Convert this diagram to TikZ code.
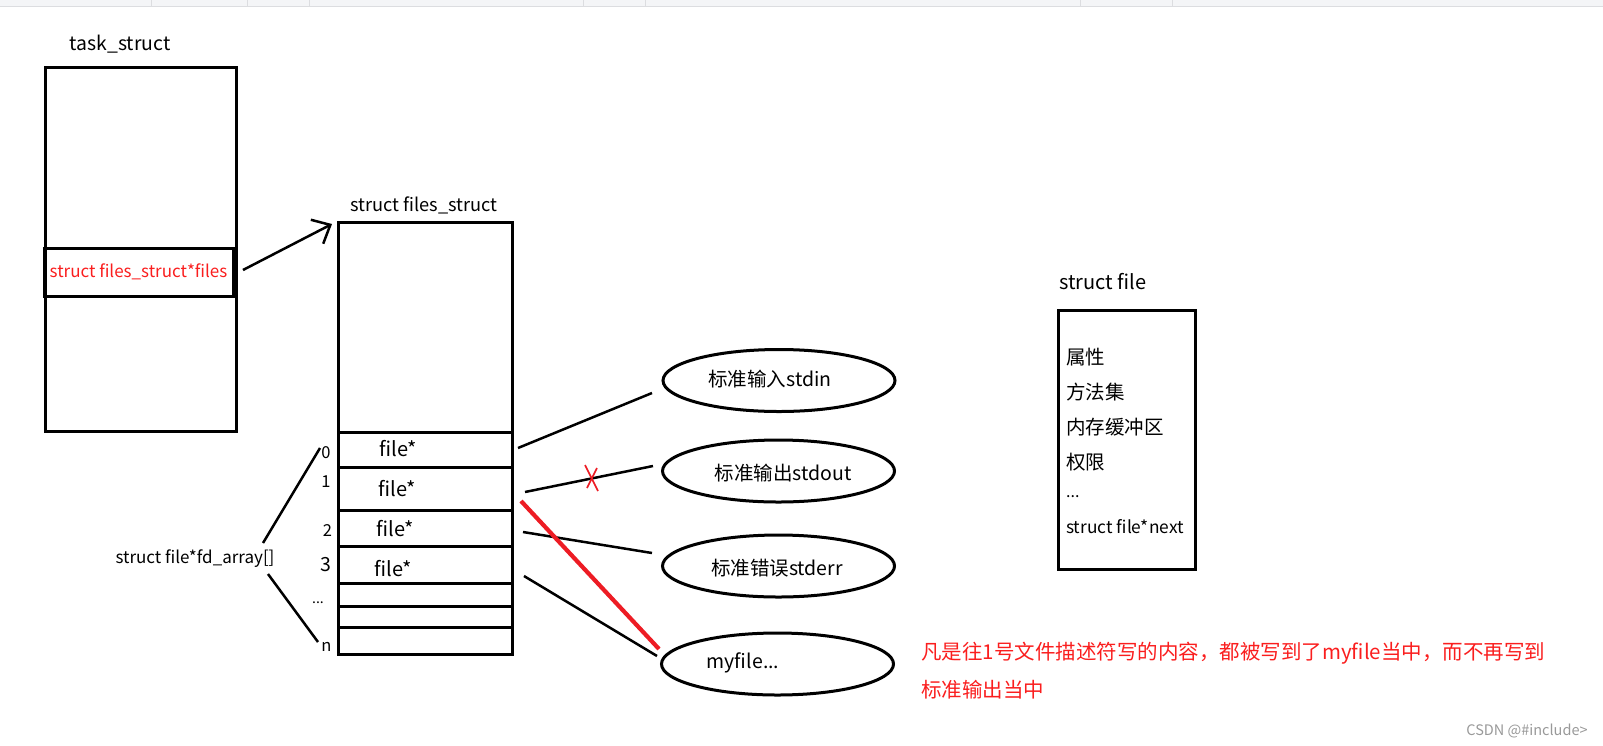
\documentclass[tikz,border=0pt]{standalone}
\usepackage{fontspec}
\setmainfont{Noto Sans CJK SC}
\usetikzlibrary{shapes.geometric,arrows.meta,calc}
\definecolor{myred}{RGB}{237,28,36}
\definecolor{txtred}{RGB}{250,30,30}
\definecolor{barbg}{RGB}{244,245,247}
\definecolor{barline}{RGB}{220,221,224}
\begin{document}
\begin{tikzpicture}[x=1pt,y=-1pt,
  box/.style={draw, line width=3pt, inner sep=0pt},
  rowbox/.style={draw, line width=3pt, inner sep=0pt, minimum width=174},
  oval/.style={draw, ellipse, line width=3pt, inner sep=0pt, minimum width=232, minimum height=62},
  conn/.style={line width=2.5pt, black},
  fnt/.style={inner sep=0pt, font=\fontsize{#1}{#1}\selectfont},
  idx/.style={inner sep=0pt, font=\fontsize{16.5}{18}\selectfont},
  redtxt/.style={inner sep=0pt, text=txtred, font=\fontsize{20.5}{22}\selectfont}
]
\useasboundingbox (0,0) rectangle (1603,745);
% top bar
\fill[barbg] (0,0) rectangle (1603,6);
\draw[barline, line width=1pt] (0,6.5) -- (1603,6.5);
\foreach \xx in {151,247,309,583,645,1080,1172}
  \draw[barline, line width=0.6pt] (\xx,0) -- (\xx,6);

% task_struct
\node[fnt=19.4] (tasklbl) at (120,44) {task\_struct};
\node[box, minimum width=191, minimum height=364] (task) at (140.5,249) {};
\node[box, minimum width=189, minimum height=48, text=txtred,
      font=\fontsize{17}{18}\selectfont] (taskfiles) at (138.5,272) {struct files\_struct*files};

% files_struct
\node[fnt=18.2] (fslbl) at (424,205) {struct files\_struct};
\node[box, minimum width=174, minimum height=432] (fs) at (425,438) {};
\node[rowbox, minimum height=35] (r0) at (425,449.5) {};
\node[rowbox, minimum height=43] (r1) at (425,488.5) {};
\node[rowbox, minimum height=36] (r2) at (425,528) {};
\node[rowbox, minimum height=37] (r3) at (425,564.5) {};
\node[rowbox, minimum height=23] (r4) at (425,594.5) {};
\node[rowbox, minimum height=21] (r5) at (425,616.5) {};
\node[rowbox, minimum height=27] (rn) at (425,640.5) {};
\node[fnt=20] (f0) at (398,449) {file*};
\node[fnt=20] (f1) at (397,489) {file*};
\node[fnt=20] (f2) at (395,529) {file*};
\node[fnt=20] (f3) at (393,569) {file*};

% indices
\node[idx] (i0) at (326,453) {0};
\node[idx] (i1) at (326,482) {1};
\node[idx] (i2) at (327.5,531) {2};
\node[idx, font=\fontsize{19.5}{20}\selectfont] (i3) at (326,565) {3};
\node[idx, font=\fontsize{14}{16}\selectfont] (idots) at (318,603) {...};
\node[idx] (in) at (326.5,647) {n};

% fd_array label and fan lines
\node[fnt=17] (fdarr) at (195,559) {struct file*fd\_array[]};
\coordinate (fdup) at (263,543);
\coordinate (fddn) at (268,574);
\coordinate (i0end) at (320,448);
\coordinate (inend) at (318,642);
\draw[conn] (fdup) -- (i0end);
\draw[conn] (fddn) -- (inend);

% pointer arrow
\coordinate (arrS) at (243,270);
\coordinate (arrT) at (332,224);
\draw[conn, -{Straight Barb[length=15pt, width=27pt, line width=2.5pt]}] (arrS) -- (arrT);

% ellipses
\node[oval] (e0) at (779,380.5) {};
\node[oval] (e1) at (778.5,471) {};
\node[oval] (e2) at (778.5,566) {};
\node[oval] (e3) at (777.5,664) {};
\node[fnt=19.5] (t0) at (770,379) {标准输入stdin};
\node[fnt=19.5] (t1) at (783,473) {标准输出stdout};
\node[fnt=19.5] (t2) at (777,568) {标准错误stderr};
\node[fnt=19.5] (t3) at (743,663) {myfile...};

% connectors rows -> ellipses
\coordinate (c0a) at (518,448);
\coordinate (c0b) at (652,393);
\coordinate (c1a) at (525,492);
\coordinate (c1b) at (653,466);
\coordinate (c2a) at (523,532);
\coordinate (c2b) at (652,553);
\coordinate (c3a) at (524,576);
\coordinate (c3b) at (657,656);
\draw[conn] (c0a) -- (c0b);
\draw[conn] (c1a) -- (c1b);
\draw[conn] (c2a) -- (c2b);
\draw[conn] (c3a) -- (c3b);

% red cross on stdout line
\coordinate (xa1) at (585,465);
\coordinate (xa2) at (598,491);
\coordinate (xb1) at (597,468);
\coordinate (xb2) at (587,488);
\draw[myred, line width=1.6pt] (xa1) -- (xa2);
\draw[myred, line width=1.6pt] (xb1) -- (xb2);

% red redirect line
\coordinate (rla) at (521,501);
\coordinate (rlb) at (659,649);
\draw[myred, line width=4.2pt] (rla) -- (rlb);

% struct file
\node[fnt=20] (sflbl) at (1103,282) {struct file};
\node[box, minimum width=137, minimum height=259] (sf) at (1126.5,439.5) {};
\node[fnt=19.5, anchor=west] (sf1) at (1066,357) {属性};
\node[fnt=19.5, anchor=west] (sf2) at (1066,392) {方法集};
\node[fnt=19.5, anchor=west] (sf3) at (1066,427) {内存缓冲区};
\node[fnt=19.5, anchor=west] (sf4) at (1066,462) {权限};
\node[fnt=16, anchor=west] (sf5) at (1066,497) {...};
\node[fnt=17.3, anchor=west] (sf6) at (1066,527) {struct file*next};

% annotation
\node[redtxt, anchor=west] (note1) at (921,653) {凡是往1号文件描述符写的内容，都被写到了myfile当中，而不再写到};
\node[redtxt, anchor=west] (note2) at (921,690) {标准输出当中};

% watermark
\node[inner sep=0pt, text=black!40, font=\fontsize{14.5}{16}\selectfont] (wm) at (1527,731) {CSDN @\#include>};
\end{tikzpicture}
\end{document}
